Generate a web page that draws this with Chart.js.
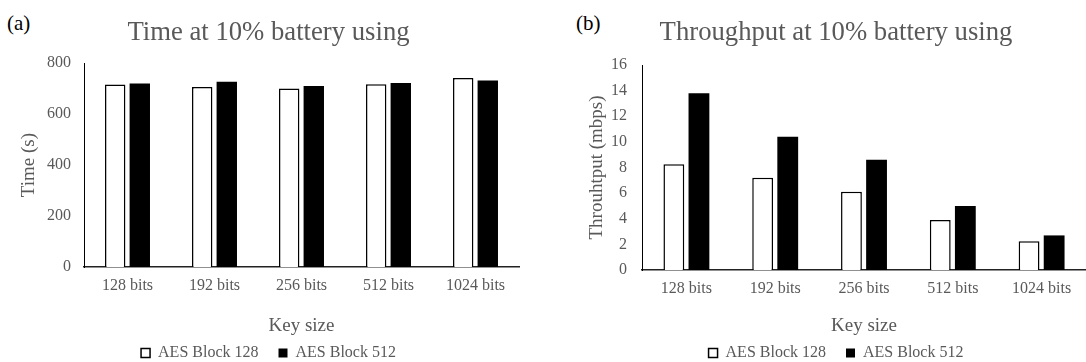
<!DOCTYPE html>
<html>
<head>
<meta charset="utf-8">
<script src="https://cdn.jsdelivr.net/npm/chart.js@4"></script>
<style>
  html, body { margin: 0; padding: 0; background: #fff; overflow: hidden; }
  body { width: 1086px; height: 362px; position: relative; }
  canvas { position: absolute; top: 0; }
  .tag { position: absolute; top: 11px; font: 21px "Liberation Serif", serif; color: #000; }
</style>
</head>
<body>
<div class="tag" style="left:7px">(a)</div>
<div class="tag" style="left:576px">(b)</div>
<canvas id="timeChart" width="540" height="371" style="left:0"></canvas>
<canvas id="throughputChart" width="546" height="371" style="left:540px"></canvas>
<script>
var keySizes = ['128 bits', '192 bits', '256 bits', '512 bits', '1024 bits'];
var seriesNames = ['AES Block 128', 'AES Block 512'];

// seconds until the battery hits 10%
var timeBlock128 = [716, 706, 700, 717, 741];
var timeBlock512 = [720, 727, 710, 722, 732];

// mbps
var tputBlock128 = [8.25, 7.2, 6.1, 3.9, 2.25];
var tputBlock512 = [13.8, 10.4, 8.6, 5.0, 2.7];

var serif = 'Liberation Serif';
var grey = '#595959';

function makeChart(id, opts) {
    var ctx = document.getElementById(id).getContext('2d');
    return new Chart(ctx, {
        type: 'bar',
        data: {
            labels: keySizes,
            datasets: [{
                label: seriesNames[0],
                data: opts.white,
                backgroundColor: '#ffffff',
                borderColor: '#000000',
                borderWidth: 1.5
            }, {
                label: seriesNames[1],
                data: opts.black,
                backgroundColor: '#000000',
                borderColor: '#000000',
                borderWidth: 0
            }]
        },
        options: {
            responsive: false,
            animation: false,
            devicePixelRatio: 1,
            datasets: { bar: { categoryPercentage: 0.565, barPercentage: 0.83 } },
            layout: { padding: { left: opts.padLeft, right: opts.padRight, top: 0, bottom: 0 } },
            plugins: {
                tooltip: { enabled: false },
                title: {
                    display: true,
                    text: opts.title,
                    color: grey,
                    font: { family: serif, size: 26.7, weight: 'normal', lineHeight: 1.2 },
                    padding: { top: 17, bottom: opts.titleGap }
                },
                legend: {
                    position: 'bottom',
                    labels: {
                        color: grey,
                        font: { family: serif, size: 16 },
                        boxWidth: 9,
                        boxHeight: 9,
                        padding: 20
                    }
                }
            },
            scales: {
                x: {
                    grid: { display: false, drawTicks: false },
                    border: { display: true, color: '#222', width: 1.5 },
                    ticks: { color: grey, font: { family: serif, size: 16 }, padding: 9 },
                    title: {
                        display: true,
                        text: 'Key size',
                        color: grey,
                        font: { family: serif, size: 19 },
                        padding: { top: 0, bottom: -12 }
                    },
                    afterFit: function (scale) { scale.height = opts.xHeight; }
                },
                y: {
                    min: 0,
                    max: opts.max,
                    grid: { display: false, drawTicks: false },
                    border: { display: true, color: '#000', width: 1 },
                    ticks: { stepSize: opts.step, color: grey, font: { family: serif, size: 16 }, padding: opts.tickPad },
                    title: {
                        display: true,
                        text: opts.yTitle,
                        color: grey,
                        font: { family: serif, size: 19 },
                        padding: { top: 0, bottom: 0 }
                    },
                    afterFit: function (scale) { scale.width = opts.yWidth; }
                }
            }
        }
    });
}

var timeChart = makeChart('timeChart', {
    title: 'Time at 10% battery using',
    yTitle: 'Time (s)',
    white: timeBlock128,
    black: timeBlock512,
    max: 800, step: 200,
    padLeft: 18, padRight: 21,
    yWidth: 66, xHeight: 58, titleGap: 14, tickPad: 13
});

var throughputChart = makeChart('throughputChart', {
    title: 'Throughput at 10% battery using',
    yTitle: 'Throuhtput (mbps)',
    white: tputBlock128,
    black: tputBlock512,
    max: 16, step: 2,
    padLeft: 46, padRight: 0,
    yWidth: 56, xHeight: 55, titleGap: 16, tickPad: 15
});
</script>
</body>
</html>
